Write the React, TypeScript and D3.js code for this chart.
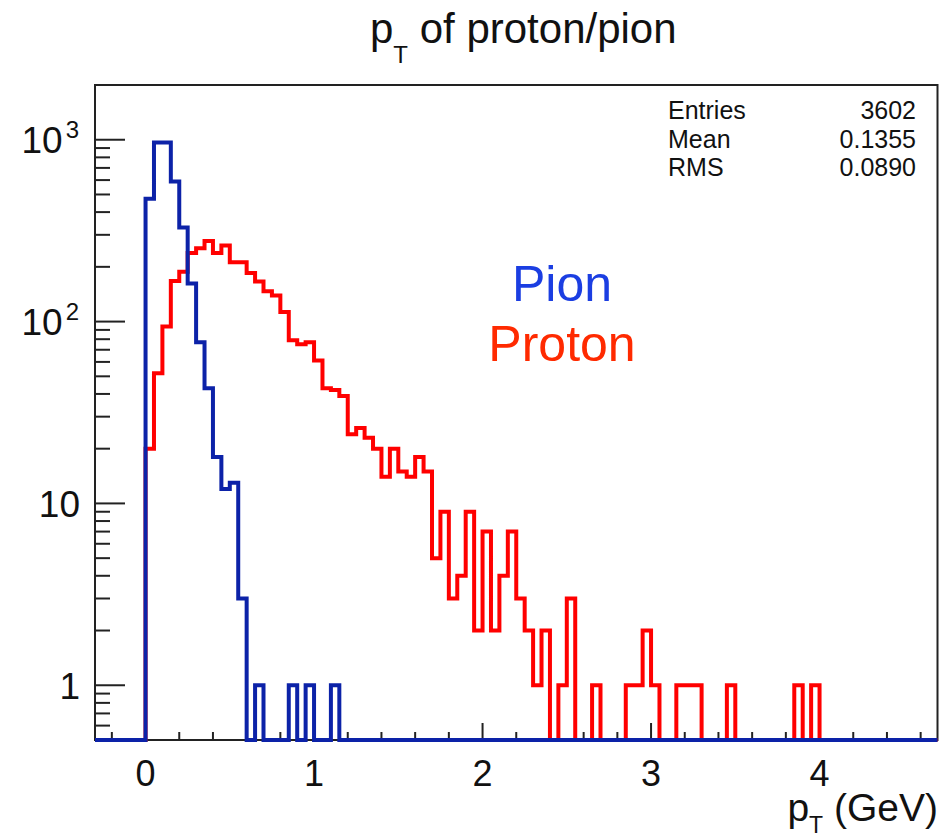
import React from "react";
import * as d3 from "d3";

// ---------- data ----------
// histogram bins of width 0.05 GeV, starting at pT = 0
const binWidth = 0.05;
const binStart = 0;
const pionCounts = [474, 965, 967, 589, 329, 162, 77, 43, 18, 12, 13, 3, 0, 1, 0, 0, 0, 1, 0, 1, 0, 0, 1];
const protonCounts = [
  20, 52, 94, 167, 188, 238, 253, 277, 238, 262,
  212, 212, 185, 166, 147, 139, 113, 79, 75, 77,
  61, 43, 42, 39, 24, 26, 23, 20, 14, 20,
  15, 14, 18, 15, 5, 9, 3, 4, 9, 2,
  7, 2, 4, 7, 3, 2, 1, 2, 0, 1,
  3, 0, 0, 1, 0, 0, 0, 1, 1, 2,
  1, 0, 0, 1, 1, 1, 0, 0, 0, 1,
  0, 0, 0, 0, 0, 0, 0, 1, 0, 1,
];
const xDomain = [-0.3, 4.7];
const yDomain = [0.5, 2000];
const xMajorTicks = [0, 1, 2, 3, 4];
const xTickLabels = ["0", "1", "2", "3", "4"];
const yMajorTicks = [1, 10, 100, 1000];
const yTickBases = ["1", "10", "10", "10"];
const yTickExps = ["", "", "2", "3"];
const statsLabels = ["Entries", "Mean", "RMS"];
const statsValues = ["3602", "0.1355", "0.0890"];
const titleMain = "p";
const titleSub = "T";
const titleRest = " of proton/pion";
const xTitleMain = "p";
const xTitleSub = "T";
const xTitleRest = " (GeV)";
const legendNames = ["Pion", "Proton"];

// ---------- layout ----------
const W = 941;
const H = 837;
const left = 95;
const right = 937.5;
const top = 85;
const bottom = 740;
const FONT = "'Liberation Sans', Arial, Helvetica, sans-serif";
const PION_LINE = "#0c22a8";
const PROTON_LINE = "#ff0000";
const PION_TEXT = "#1b3ee2";
const PROTON_TEXT = "#ff2a00";

export default function App() {
  const x = d3.scaleLinear().domain(xDomain).range([left, right]);
  const y = d3.scaleLog().domain(yDomain).range([bottom, top]);

  const nBins = Math.round((xDomain[1] - xDomain[0]) / binWidth);
  const offset = Math.round((binStart - xDomain[0]) / binWidth);

  const buildPoints = (counts: number[]) => {
    const pts: [number, number][] = [];
    for (let i = 0; i < nBins; i++) {
      const k = i - offset;
      const v = k >= 0 && k < counts.length ? counts[k] : 0;
      pts.push([xDomain[0] + i * binWidth, Math.max(v, yDomain[0])]);
    }
    pts.push([xDomain[1], yDomain[0]]);
    return pts;
  };

  const line = d3
    .line<[number, number]>()
    .x((d) => x(d[0]))
    .y((d) => y(d[1]))
    .curve(d3.curveStepAfter);

  const pionPath = line(buildPoints(pionCounts)) || "";
  const protonPath = line(buildPoints(protonCounts)) || "";

  // minor ticks
  const xMinor: number[] = [];
  for (let v = -0.2; v < xDomain[1]; v += 0.2) {
    const r = Math.round(v * 10) / 10;
    if (Math.abs(r - Math.round(r)) > 1e-6) xMinor.push(r);
  }
  const yMinor: number[] = [];
  for (let e = -1; e <= 3; e++) {
    for (let m = 2; m <= 9; m++) {
      const v = m * Math.pow(10, e);
      if (v > yDomain[0] && v < yDomain[1]) yMinor.push(v);
    }
  }

  return (
    <svg
      width={W}
      height={H}
      style={{ position: "fixed", left: 0, top: 0, background: "#fff" }}
      fontFamily={FONT}
    >
      <rect x={0} y={0} width={W} height={H} fill="#fff" />
      {/* title */}
      <text x={370} y={43} fontSize={42} fill="#111">
        {titleMain}
        <tspan fontSize={24} dy={20}>{titleSub}</tspan>
        <tspan fontSize={42} dy={-20}>{titleRest}</tspan>
      </text>

      {/* frame */}
      <rect x={left} y={top} width={right - left} height={bottom - top} fill="none" stroke="#222" strokeWidth={2} />

      {/* x ticks */}
      {xMajorTicks.map((v) => (
        <line key={"xM" + v} x1={x(v)} x2={x(v)} y1={bottom} y2={bottom - 17} stroke="#222" strokeWidth={2} />
      ))}
      {xMinor.map((v) => (
        <line key={"xm" + v} x1={x(v)} x2={x(v)} y1={bottom} y2={bottom - 8} stroke="#222" strokeWidth={2} />
      ))}
      {xMajorTicks.map((v, i) => (
        <text key={"xl" + v} x={x(v)} y={786} fontSize={36} textAnchor="middle" fill="#111">
          {xTickLabels[i]}
        </text>
      ))}

      {/* y ticks */}
      {yMajorTicks.map((v) => (
        <line key={"yM" + v} x1={left} x2={left + 30} y1={y(v)} y2={y(v)} stroke="#222" strokeWidth={2} />
      ))}
      {yMinor.map((v) => (
        <line key={"ym" + v} x1={left} x2={left + 15} y1={y(v)} y2={y(v)} stroke="#222" strokeWidth={2} />
      ))}
      {yMajorTicks.map((v, i) => (
        <text key={"yl" + v} x={yTickExps[i] ? 79 : 80} y={y(v) + 13.5} fontSize={37} textAnchor="end" fill="#111">
          {yTickBases[i]}
          {yTickExps[i] ? (
            <tspan fontSize={24} dx={3} dy={-15}>{yTickExps[i]}</tspan>
          ) : null}
        </text>
      ))}

      {/* histograms */}
      <path d={protonPath} fill="none" stroke={PROTON_LINE} strokeWidth={4} strokeLinejoin="miter" />
      <path d={pionPath} fill="none" stroke={PION_LINE} strokeWidth={4} strokeLinejoin="miter" />

      {/* stats box text */}
      {statsLabels.map((s, i) => (
        <text key={"sl" + s} x={668} y={119 + i * 28.7} fontSize={25} fill="#111">
          {s}
        </text>
      ))}
      {statsValues.map((s, i) => (
        <text key={"sv" + s} x={916} y={119 + i * 28.7} fontSize={25} textAnchor="end" fill="#111">
          {s}
        </text>
      ))}

      {/* legend labels */}
      <text x={562} y={301} fontSize={50} textAnchor="middle" fill={PION_TEXT}>
        {legendNames[0]}
      </text>
      <text x={562} y={361} fontSize={50} textAnchor="middle" fill={PROTON_TEXT}>
        {legendNames[1]}
      </text>

      {/* x axis title */}
      <text x={938} y={821} fontSize={39} textAnchor="end" fill="#111">
        {xTitleMain}
        <tspan fontSize={23} dy={12}>{xTitleSub}</tspan>
        <tspan fontSize={39} dy={-12}>{xTitleRest}</tspan>
      </text>
    </svg>
  );
}
